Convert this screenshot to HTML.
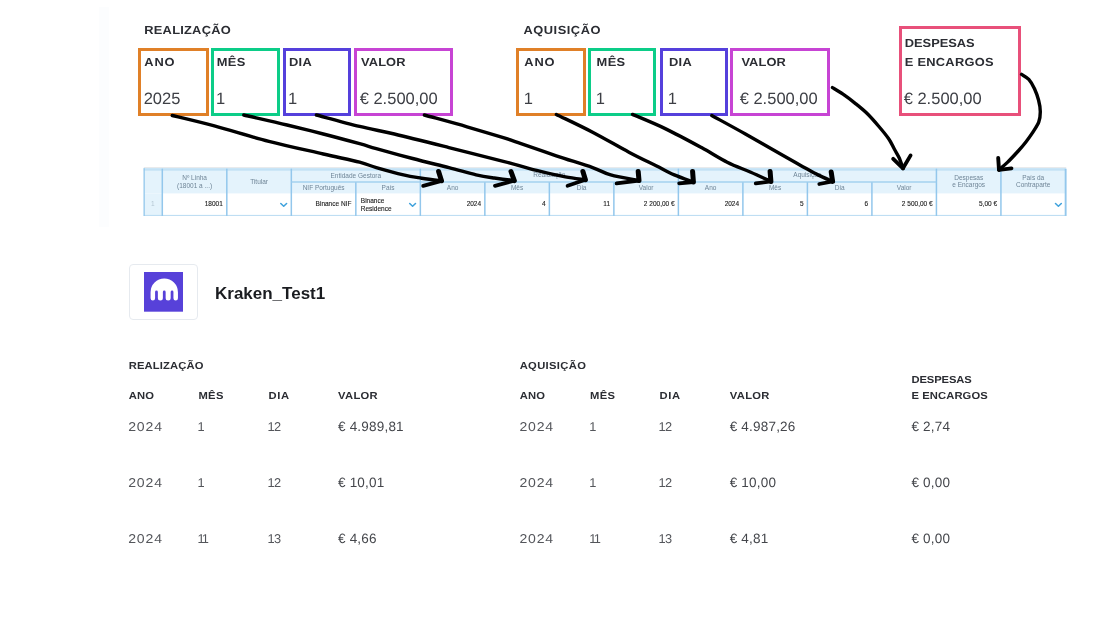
<!DOCTYPE html>
<html><head><meta charset="utf-8">
<style>
html,body{margin:0;padding:0;background:#fff;}
body{width:1102px;height:626px;position:relative;overflow:hidden;font-family:"Liberation Sans",sans-serif;color:#2b2d33;}
.abs{position:absolute;white-space:nowrap;}
.box{position:absolute;box-sizing:border-box;border:3px solid #000;}
.lbl{position:absolute;font-weight:bold;font-size:11.7px;line-height:11.7px;color:#2b2d33;white-space:nowrap;transform:scaleX(1.1);transform-origin:0 0;}
.val{position:absolute;font-size:16.5px;line-height:16px;color:#3d3f45;white-space:nowrap;}
.h2{position:absolute;font-weight:bold;font-size:10.2px;line-height:10.2px;color:#2b2d33;white-space:nowrap;transform:scaleX(1.1);transform-origin:0 0;}
.v2{position:absolute;font-size:13px;line-height:14px;color:#505257;white-space:nowrap;letter-spacing:0.95px;}
.v3{position:absolute;font-size:13.5px;line-height:14px;color:#44464b;white-space:nowrap;letter-spacing:0.2px;}
.ttl{position:absolute;font-weight:bold;font-size:16.5px;line-height:20px;color:#1a1c20;white-space:nowrap;transform:scaleX(1.03);transform-origin:0 0;}
.th{position:absolute;width:80px;text-align:center;font-size:6.5px;line-height:8px;color:#6f8597;white-space:nowrap;}
.td{position:absolute;font-size:6.5px;line-height:8px;color:#1c1c1c;white-space:nowrap;-webkit-text-stroke:0.12px #1c1c1c;}
</style></head><body><div id="all" style="position:absolute;left:0;top:0;width:1102px;height:626px;filter:blur(0.45px);">
<div class="abs" style="left:98.5px;top:7px;width:10.5px;height:220px;background:#fcfdfe;"></div>
<!-- top boxes -->
<div class="box" style="left:138.3px;top:47.6px;width:70.7px;height:68.0px;border-color:#e08028;"></div>
<div class="box" style="left:210.9px;top:47.6px;width:68.7px;height:68.0px;border-color:#0ccd88;"></div>
<div class="box" style="left:282.5px;top:47.6px;width:68.3px;height:68.0px;border-color:#5540dc;"></div>
<div class="box" style="left:353.6px;top:47.6px;width:99.5px;height:68.0px;border-color:#c744d4;"></div>
<div class="box" style="left:515.5px;top:47.6px;width:70.2px;height:68.0px;border-color:#e08028;"></div>
<div class="box" style="left:587.5px;top:47.6px;width:68.7px;height:68.0px;border-color:#0ccd88;"></div>
<div class="box" style="left:659.6px;top:47.6px;width:68.4px;height:68.0px;border-color:#5540dc;"></div>
<div class="box" style="left:730.3px;top:47.6px;width:99.3px;height:68.0px;border-color:#c744d4;"></div>
<div class="box" style="left:898.9px;top:26.2px;width:122.5px;height:89.4px;border-color:#e8507a;"></div>
<svg class="abs" style="left:0;top:0;text-rendering:geometricPrecision" width="1102" height="626" viewBox="0 0 1102 626" font-family="Liberation Sans, sans-serif">
<g transform="translate(144.3 34.4) scale(1.1 1)"><text x="0" y="0" font-size="11.7" font-weight="bold" fill="#2b2d33" textLength="78.55" lengthAdjust="spacing">REALIZAÇÃO</text></g>
<g transform="translate(523.4 34.4) scale(1.1 1)"><text x="0" y="0" font-size="11.7" font-weight="bold" fill="#2b2d33" textLength="70.09" lengthAdjust="spacing">AQUISIÇÃO</text></g>
<g transform="translate(144.3 65.5) scale(1.1 1)"><text x="0" y="0" font-size="11.7" font-weight="bold" fill="#2b2d33" textLength="27.55" lengthAdjust="spacing">ANO</text></g>
<g transform="translate(216.8 65.5) scale(1.1 1)"><text x="0" y="0" font-size="11.7" font-weight="bold" fill="#2b2d33" textLength="25.91" lengthAdjust="spacing">MÊS</text></g>
<g transform="translate(288.9 65.5) scale(1.1 1)"><text x="0" y="0" font-size="11.7" font-weight="bold" fill="#2b2d33" textLength="20.91" lengthAdjust="spacing">DIA</text></g>
<g transform="translate(361.1 65.5) scale(1.1 1)"><text x="0" y="0" font-size="11.7" font-weight="bold" fill="#2b2d33" textLength="40.36" lengthAdjust="spacing">VALOR</text></g>
<g transform="translate(524.3 65.5) scale(1.1 1)"><text x="0" y="0" font-size="11.7" font-weight="bold" fill="#2b2d33" textLength="27.55" lengthAdjust="spacing">ANO</text></g>
<g transform="translate(596.6 65.5) scale(1.1 1)"><text x="0" y="0" font-size="11.7" font-weight="bold" fill="#2b2d33" textLength="25.91" lengthAdjust="spacing">MÊS</text></g>
<g transform="translate(668.9 65.5) scale(1.1 1)"><text x="0" y="0" font-size="11.7" font-weight="bold" fill="#2b2d33" textLength="20.91" lengthAdjust="spacing">DIA</text></g>
<g transform="translate(741.4 65.5) scale(1.1 1)"><text x="0" y="0" font-size="11.7" font-weight="bold" fill="#2b2d33" textLength="40.36" lengthAdjust="spacing">VALOR</text></g>
<g transform="translate(904.8 47.2) scale(1.1 1)"><text x="0" y="0" font-size="11.7" font-weight="bold" fill="#2b2d33" textLength="63.55" lengthAdjust="spacing">DESPESAS</text></g>
<g transform="translate(904.8 65.7) scale(1.1 1)"><text x="0" y="0" font-size="11.7" font-weight="bold" fill="#2b2d33" textLength="80.64" lengthAdjust="spacing">E ENCARGOS</text></g>
<g transform="translate(128.7 368.8) scale(1.1 1)"><text x="0" y="0" font-size="10.2" font-weight="bold" fill="#2b2d33" textLength="68.00" lengthAdjust="spacing">REALIZAÇÃO</text></g>
<g transform="translate(519.7 368.8) scale(1.1 1)"><text x="0" y="0" font-size="10.2" font-weight="bold" fill="#2b2d33" textLength="60.18" lengthAdjust="spacing">AQUISIÇÃO</text></g>
<g transform="translate(128.7 399.4) scale(1.1 1)"><text x="0" y="0" font-size="10.2" font-weight="bold" fill="#2b2d33" textLength="23.09" lengthAdjust="spacing">ANO</text></g>
<g transform="translate(198.4 399.4) scale(1.1 1)"><text x="0" y="0" font-size="10.2" font-weight="bold" fill="#2b2d33" textLength="22.73" lengthAdjust="spacing">MÊS</text></g>
<g transform="translate(268.5 399.4) scale(1.1 1)"><text x="0" y="0" font-size="10.2" font-weight="bold" fill="#2b2d33" textLength="18.73" lengthAdjust="spacing">DIA</text></g>
<g transform="translate(338.1 399.4) scale(1.1 1)"><text x="0" y="0" font-size="10.2" font-weight="bold" fill="#2b2d33" textLength="36.00" lengthAdjust="spacing">VALOR</text></g>
<g transform="translate(519.7 399.4) scale(1.1 1)"><text x="0" y="0" font-size="10.2" font-weight="bold" fill="#2b2d33" textLength="23.09" lengthAdjust="spacing">ANO</text></g>
<g transform="translate(590.1 399.4) scale(1.1 1)"><text x="0" y="0" font-size="10.2" font-weight="bold" fill="#2b2d33" textLength="22.73" lengthAdjust="spacing">MÊS</text></g>
<g transform="translate(659.5 399.4) scale(1.1 1)"><text x="0" y="0" font-size="10.2" font-weight="bold" fill="#2b2d33" textLength="18.73" lengthAdjust="spacing">DIA</text></g>
<g transform="translate(729.8 399.4) scale(1.1 1)"><text x="0" y="0" font-size="10.2" font-weight="bold" fill="#2b2d33" textLength="36.00" lengthAdjust="spacing">VALOR</text></g>
<g transform="translate(911.5 382.8) scale(1.1 1)"><text x="0" y="0" font-size="10.2" font-weight="bold" fill="#2b2d33" textLength="54.82" lengthAdjust="spacing">DESPESAS</text></g>
<g transform="translate(911.5 399.4) scale(1.1 1)"><text x="0" y="0" font-size="10.2" font-weight="bold" fill="#2b2d33" textLength="69.27" lengthAdjust="spacing">E ENCARGOS</text></g>
<text x="143.7" y="103.5" font-size="16.5" fill="#3d3f45">2025</text>
<text x="216.1" y="103.5" font-size="16.5" fill="#3d3f45">1</text>
<text x="288.1" y="103.5" font-size="16.5" fill="#3d3f45">1</text>
<text x="359.7" y="103.5" font-size="16.5" fill="#3d3f45">€ 2.500,00</text>
<text x="523.7" y="103.5" font-size="16.5" fill="#3d3f45">1</text>
<text x="595.7" y="103.5" font-size="16.5" fill="#3d3f45">1</text>
<text x="667.7" y="103.5" font-size="16.5" fill="#3d3f45">1</text>
<text x="739.7" y="103.5" font-size="16.5" fill="#3d3f45">€ 2.500,00</text>
<text x="903.7" y="103.5" font-size="16.5" fill="#3d3f45">€ 2.500,00</text>
</svg>
<!-- table -->
<svg class="abs" style="left:0;top:0" width="1102" height="626" viewBox="0 0 1102 626">
<rect x="143.8" y="167.1" width="922.44" height="1.3" fill="#e6e8ea"/>
<rect x="143.8" y="168.2" width="921.6400000000001" height="25.200000000000017" fill="#e4f3fc"/>
<rect x="143.8" y="193.4" width="18.5" height="22.5" fill="#e4f3fc"/>
<rect x="143.8" y="168.2" width="921.6400000000001" height="2.5" fill="#c3e1f5"/>
<rect x="143.8" y="214.9" width="922.44" height="1.0" fill="#b9dbf2"/>
<rect x="143.5" y="168.2" width="1.3" height="47.70000000000002" fill="#93c7ec"/>
<rect x="161.55" y="168.7" width="1.5" height="47.20" fill="#93c7ec"/>
<rect x="226.06" y="168.7" width="1.5" height="47.20" fill="#93c7ec"/>
<rect x="290.57" y="168.7" width="1.5" height="47.20" fill="#93c7ec"/>
<rect x="355.08" y="182.0" width="1.5" height="33.90" fill="#93c7ec"/>
<rect x="419.59" y="168.7" width="1.5" height="47.20" fill="#93c7ec"/>
<rect x="484.10" y="182.0" width="1.5" height="33.90" fill="#93c7ec"/>
<rect x="548.61" y="182.0" width="1.5" height="33.90" fill="#93c7ec"/>
<rect x="613.12" y="182.0" width="1.5" height="33.90" fill="#93c7ec"/>
<rect x="677.63" y="168.7" width="1.5" height="47.20" fill="#93c7ec"/>
<rect x="742.14" y="182.0" width="1.5" height="33.90" fill="#93c7ec"/>
<rect x="806.65" y="182.0" width="1.5" height="33.90" fill="#93c7ec"/>
<rect x="871.16" y="182.0" width="1.5" height="33.90" fill="#93c7ec"/>
<rect x="935.67" y="168.7" width="1.5" height="47.20" fill="#93c7ec"/>
<rect x="1000.18" y="168.7" width="1.5" height="47.20" fill="#93c7ec"/>
<rect x="1064.69" y="168.7" width="1.9" height="47.20" fill="#93c7ec"/>
<rect x="291.32" y="181.3" width="645.10" height="1.4" fill="#a0cfee"/>
<path d="M280.8 203.5 L283.7 206.3 L286.6 203.5" fill="none" stroke="#3fa2dc" stroke-width="1.55" stroke-linecap="round" stroke-linejoin="round"/>
<path d="M409.7 203.5 L412.6 206.3 L415.5 203.5" fill="none" stroke="#3fa2dc" stroke-width="1.55" stroke-linecap="round" stroke-linejoin="round"/>
<path d="M1055.5 203.5 L1058.4 206.3 L1061.3 203.5" fill="none" stroke="#3fa2dc" stroke-width="1.55" stroke-linecap="round" stroke-linejoin="round"/>
</svg>
<div class="th" style="left:154.6px;top:173.8px;">Nº Linha</div>
<div class="th" style="left:154.6px;top:181.6px;">(18001 a ...)</div>
<div class="th" style="left:219.1px;top:177.6px;">Titular</div>
<div class="th" style="left:315.8px;top:171.6px;">Entidade Gestora</div>
<div class="th" style="left:283.6px;top:183.6px;">NIF Português</div>
<div class="th" style="left:348.1px;top:183.6px;">País</div>
<div class="th" style="left:509.4px;top:171.4px;">Realização</div>
<div class="th" style="left:767.4px;top:171.4px;">Aquisição</div>
<div class="th" style="left:412.6px;top:183.6px;">Ano</div>
<div class="th" style="left:477.1px;top:183.6px;">Mês</div>
<div class="th" style="left:541.6px;top:183.6px;">Dia</div>
<div class="th" style="left:606.1px;top:183.6px;">Valor</div>
<div class="th" style="left:670.6px;top:183.6px;">Ano</div>
<div class="th" style="left:735.1px;top:183.6px;">Mês</div>
<div class="th" style="left:799.7px;top:183.6px;">Dia</div>
<div class="th" style="left:864.2px;top:183.6px;">Valor</div>
<div class="th" style="left:928.7px;top:173.6px;">Despesas</div>
<div class="th" style="left:928.7px;top:181.4px;">e Encargos</div>
<div class="th" style="left:993.2px;top:173.6px;">País da</div>
<div class="th" style="left:993.2px;top:181.4px;">Contraparte</div>
<div class="th" style="left:112.9px;top:200.2px;color:#b4c6d3;">1</div>
<div class="td" style="left:162.8px;top:200.2px;width:60px;text-align:right;">18001</div>
<div class="td" style="left:291.4px;top:200.2px;width:60px;text-align:right;">Binance NIF</div>
<div class="td" style="left:360.8px;top:197.2px;">Binance</div>
<div class="td" style="left:360.8px;top:204.6px;">Residence</div>
<div class="td" style="left:421.1px;top:200.2px;width:60px;text-align:right;">2024</div>
<div class="td" style="left:485.6px;top:200.2px;width:60px;text-align:right;">4</div>
<div class="td" style="left:550.1px;top:200.2px;width:60px;text-align:right;">11</div>
<div class="td" style="left:614.6px;top:200.2px;width:60px;text-align:right;">2 200,00 €</div>
<div class="td" style="left:679.1px;top:200.2px;width:60px;text-align:right;">2024</div>
<div class="td" style="left:743.6px;top:200.2px;width:60px;text-align:right;">5</div>
<div class="td" style="left:808.1px;top:200.2px;width:60px;text-align:right;">6</div>
<div class="td" style="left:872.6px;top:200.2px;width:60px;text-align:right;">2 500,00 €</div>
<div class="td" style="left:937.1px;top:200.2px;width:60px;text-align:right;">5,00 €</div>
<!-- arrows -->
<svg class="abs" style="left:0;top:0" width="1102" height="626" viewBox="0 0 1102 626" fill="none" stroke="#000" stroke-width="3.4" stroke-linecap="round" stroke-linejoin="round">
<path d="M172.3 115.5 C179.3 117.2 198.3 121.6 214.4 125.9 C230.5 130.2 250.7 136.6 268.9 141.3 C287.0 146.0 308.2 150.5 323.3 154.0 C338.4 157.5 350.8 159.9 359.6 162.2 C368.4 164.5 369.0 165.5 376.3 167.6 C383.6 169.7 395.9 173.1 403.5 174.9 C411.1 176.7 415.4 177.2 421.7 178.2 C428.0 179.2 438.2 180.4 441.5 180.8"/>
<path d="M438.6 171.5 L441.5 180.8" stroke-width="5.0"/>
<path d="M423.2 185.9 L441.5 180.8" stroke-width="3.8"/>
<path d="M243.8 115.0 C251.0 116.7 273.8 121.8 287.0 125.0 C300.2 128.2 311.2 130.9 323.3 134.0 C335.4 137.1 350.8 141.3 359.6 143.7 C368.4 146.1 367.5 146.1 376.3 148.6 C385.1 151.1 400.5 155.3 412.6 158.5 C424.7 161.7 438.3 164.9 448.9 167.6 C459.5 170.3 468.5 173.2 476.1 174.9 C483.7 176.6 487.9 177.1 494.3 178.0 C500.7 178.9 511.0 180.2 514.3 180.6"/>
<path d="M511.0 171.5 L514.3 180.6" stroke-width="5.0"/>
<path d="M495.0 185.8 L514.3 180.6" stroke-width="3.8"/>
<path d="M316.4 115.0 C323.6 116.9 346.6 123.2 359.6 126.4 C372.6 129.6 379.5 130.5 394.4 134.0 C409.3 137.5 430.8 143.0 448.9 147.6 C467.0 152.2 488.2 157.4 503.3 161.3 C518.4 165.2 529.2 168.6 539.6 171.2 C550.0 173.8 557.8 175.5 565.4 176.9 C573.0 178.3 582.1 179.3 585.4 179.8"/>
<path d="M582.9 171.5 L585.4 179.8" stroke-width="5.0"/>
<path d="M567.6 185.8 L585.4 179.8" stroke-width="3.8"/>
<path d="M424.4 115.0 C431.5 117.0 453.9 123.0 467.0 126.8 C480.1 130.6 494.3 134.9 503.3 137.7 C512.3 140.5 512.2 140.6 521.0 143.6 C529.8 146.6 544.4 151.8 556.3 155.8 C568.2 159.8 583.5 164.4 592.6 167.6 C601.7 170.8 603.0 172.8 610.7 174.9 C618.4 177.1 634.3 179.6 639.0 180.5"/>
<path d="M638.2 171.5 L639.0 180.5" stroke-width="5.0"/>
<path d="M616.6 183.4 L639.0 180.5" stroke-width="3.8"/>
<path d="M556.3 114.4 C562.3 117.4 580.5 125.9 592.6 132.2 C604.7 138.5 618.3 146.6 628.9 152.2 C639.5 157.8 648.5 162.0 656.1 165.8 C663.7 169.6 668.1 172.2 674.3 174.9 C680.5 177.6 690.2 180.8 693.4 182.0"/>
<path d="M692.6 171.5 L693.4 182.0" stroke-width="5.0"/>
<path d="M679.2 183.4 L693.4 182.0" stroke-width="3.8"/>
<path d="M632.5 114.4 C638.0 116.8 653.7 123.1 665.2 128.6 C676.7 134.1 691.2 142.0 701.5 147.6 C711.8 153.2 719.0 158.1 727.2 162.2 C735.4 166.3 743.5 169.0 750.8 172.2 C758.1 175.4 767.5 179.9 770.9 181.4"/>
<path d="M770.1 171.5 L770.9 181.4" stroke-width="5.0"/>
<path d="M755.8 183.4 L770.9 181.4" stroke-width="3.8"/>
<path d="M711.8 115.5 C717.4 118.6 735.3 128.3 745.4 134.0 C755.5 139.7 763.5 144.3 772.6 149.5 C781.7 154.7 792.2 160.7 799.8 164.9 C807.4 169.1 812.5 172.2 818.0 174.9 C823.5 177.7 830.2 180.3 832.6 181.4"/>
<path d="M831.2 172.0 L832.6 181.4" stroke-width="5.0"/>
<path d="M819.3 184 L832.6 181.4" stroke-width="3.8"/>
<path d="M832.4 87.6 C834.2 88.7 839.2 91.6 843.0 94.2 C846.8 96.8 850.9 99.9 854.9 103.1 C858.9 106.3 862.9 109.4 866.9 113.3 C870.9 117.2 875.3 122.3 878.9 126.5 C882.5 130.7 885.9 134.8 888.5 138.5 C891.1 142.2 892.5 145.8 894.3 149.0 C896.0 152.2 897.5 154.3 899.0 157.5 C900.5 160.7 902.3 166.5 903.0 168.3"/>
<path d="M893.2 158.9 L903.0 168.3" stroke-width="3.9"/>
<path d="M910.6 155.4 L903.0 168.3" stroke-width="3.8"/>
<path d="M1021.6 74.4 C1022.8 75.2 1026.6 77.0 1028.8 79.4 C1031.0 81.8 1032.9 85.3 1034.5 88.8 C1036.1 92.3 1037.6 96.5 1038.6 100.3 C1039.6 104.1 1040.3 108.2 1040.3 111.8 C1040.3 115.4 1040.0 118.6 1038.8 121.9 C1037.6 125.2 1035.2 128.6 1033.1 131.9 C1030.9 135.2 1028.3 138.9 1025.9 142.0 C1023.5 145.1 1021.8 147.1 1018.7 150.5 C1015.6 153.9 1010.7 159.2 1007.4 162.4 C1004.1 165.6 1000.4 168.6 999.0 169.8"/>
<path d="M998.2 157.9 L999.0 169.8" stroke-width="3.9"/>
<path d="M1011.5 168.3 L999.0 169.8" stroke-width="3.8"/>
</svg>
<!-- lower -->
<div class="abs" style="left:129.2px;top:264.2px;width:69px;height:56px;box-sizing:border-box;border:1px solid #e6eaef;border-radius:4px;background:#fff;"></div>
<svg class="abs" style="left:143.6px;top:272.1px" width="39.6" height="39.7" viewBox="0 0 39.5 39.6" preserveAspectRatio="none">
<rect width="39.5" height="39.6" fill="#5741d9"/>
<path d="M6.56 26.25 V20.2 A13.65 13.7 0 0 1 33.87 20.2 V26.25 a2.25 2.25 0 0 1 -4.5 0 V19.9 a1.385 1.385 0 0 0 -2.77 0 V26.0 a2.5 2.5 0 0 1 -5 0 V19.9 a1.385 1.385 0 0 0 -2.77 0 V26.0 a2.5 2.5 0 0 1 -5 0 V19.9 a1.385 1.385 0 0 0 -2.77 0 V26.25 a2.25 2.25 0 0 1 -4.5 0 Z" fill="#fff"/>
</svg>
<div class="ttl" style="left:215.0px;top:283.4px;">Kraken_Test1</div>
<svg class="abs" style="left:0;top:0;text-rendering:geometricPrecision" width="1102" height="626" viewBox="0 0 1102 626" font-family="Liberation Sans, sans-serif">
<g transform="translate(128.2 430.8) scale(1.1 1)"><text x="0" y="0" font-size="12.8" letter-spacing="0.75" fill="#54565b">2024</text></g>
<text x="197.4" y="430.8" font-size="12.8" letter-spacing="0" fill="#54565b">1</text>
<text x="267.5" y="430.8" font-size="12.8" letter-spacing="-0.7" fill="#54565b">12</text>
<text x="338.0" y="430.8" font-size="13.5" letter-spacing="0.2" fill="#44464b">€ 4.989,81</text>
<g transform="translate(519.4 430.8) scale(1.1 1)"><text x="0" y="0" font-size="12.8" letter-spacing="0.75" fill="#54565b">2024</text></g>
<text x="589.1999999999999" y="430.8" font-size="12.8" letter-spacing="0" fill="#54565b">1</text>
<text x="658.5999999999999" y="430.8" font-size="12.8" letter-spacing="-0.7" fill="#54565b">12</text>
<text x="729.7" y="430.8" font-size="13.5" letter-spacing="0.2" fill="#44464b">€ 4.987,26</text>
<text x="911.4" y="430.8" font-size="13.5" letter-spacing="0.2" fill="#44464b">€ 2,74</text>
<g transform="translate(128.2 487.1) scale(1.1 1)"><text x="0" y="0" font-size="12.8" letter-spacing="0.75" fill="#54565b">2024</text></g>
<text x="197.4" y="487.1" font-size="12.8" letter-spacing="0" fill="#54565b">1</text>
<text x="267.5" y="487.1" font-size="12.8" letter-spacing="-0.7" fill="#54565b">12</text>
<text x="338.0" y="487.1" font-size="13.5" letter-spacing="0.2" fill="#44464b">€ 10,01</text>
<g transform="translate(519.4 487.1) scale(1.1 1)"><text x="0" y="0" font-size="12.8" letter-spacing="0.75" fill="#54565b">2024</text></g>
<text x="589.1999999999999" y="487.1" font-size="12.8" letter-spacing="0" fill="#54565b">1</text>
<text x="658.5999999999999" y="487.1" font-size="12.8" letter-spacing="-0.7" fill="#54565b">12</text>
<text x="729.7" y="487.1" font-size="13.5" letter-spacing="0.2" fill="#44464b">€ 10,00</text>
<text x="911.4" y="487.1" font-size="13.5" letter-spacing="0.2" fill="#44464b">€ 0,00</text>
<g transform="translate(128.2 543.0) scale(1.1 1)"><text x="0" y="0" font-size="12.8" letter-spacing="0.75" fill="#54565b">2024</text></g>
<text x="197.4" y="543.0" font-size="12.8" letter-spacing="-1.7" fill="#54565b">11</text>
<text x="267.5" y="543.0" font-size="12.8" letter-spacing="-0.7" fill="#54565b">13</text>
<text x="338.0" y="543.0" font-size="13.5" letter-spacing="0.2" fill="#44464b">€ 4,66</text>
<g transform="translate(519.4 543.0) scale(1.1 1)"><text x="0" y="0" font-size="12.8" letter-spacing="0.75" fill="#54565b">2024</text></g>
<text x="589.1999999999999" y="543.0" font-size="12.8" letter-spacing="-1.7" fill="#54565b">11</text>
<text x="658.5999999999999" y="543.0" font-size="12.8" letter-spacing="-0.7" fill="#54565b">13</text>
<text x="729.7" y="543.0" font-size="13.5" letter-spacing="0.2" fill="#44464b">€ 4,81</text>
<text x="911.4" y="543.0" font-size="13.5" letter-spacing="0.2" fill="#44464b">€ 0,00</text>
</svg>
</div></body></html>
